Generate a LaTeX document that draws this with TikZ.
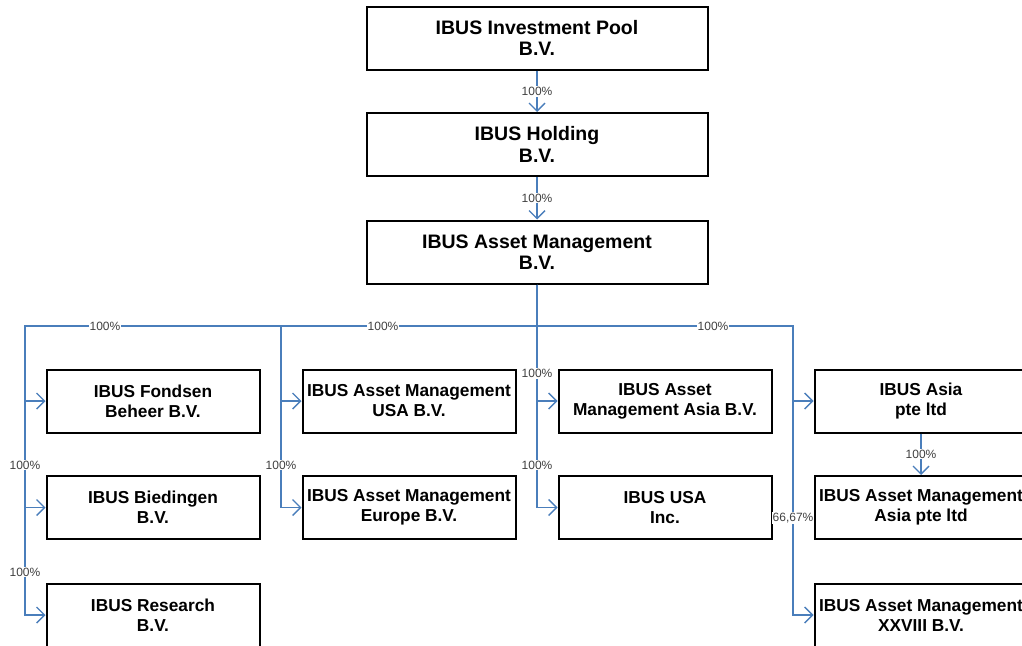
\documentclass[tikz,border=0pt]{standalone}
\usepackage{fontspec}
\setmainfont{Liberation Sans}
\usetikzlibrary{arrows.meta}
\definecolor{connblue}{HTML}{4A7EBB}
\definecolor{lbltxt}{HTML}{404040}
\begin{document}
\begin{tikzpicture}[x=1pt,y=1pt,
  bigbox/.style={draw=black,line width=2pt,fill=white,minimum width=341pt,minimum height=63pt,inner sep=0pt,align=center,font=\fontsize{19.5}{21.5}\selectfont\bfseries},
  smallbox/.style={draw=black,line width=2pt,fill=white,minimum width=213pt,minimum height=63pt,inner sep=0pt,align=center,font=\fontsize{17.3}{20}\selectfont\bfseries},
  link/.style={draw=connblue,line width=1.4pt,-{Straight Barb[length=8pt,width=16pt]}},
  pct/.style={fill=white,inner sep=1pt,text=lbltxt,font=\fontsize{12}{12}\selectfont}]
\useasboundingbox (0,0) rectangle (1022,-645);
\clip (0,0) rectangle (1022,-645);

% boxes
\node[bigbox] (pool) at (537,-38) {IBUS Investment Pool\\B.V.};
\node[bigbox] (hold) at (537,-144.5) {IBUS Holding\\B.V.};
\node[bigbox] (am) at (537,-252) {IBUS Asset Management\\B.V.};

\node[smallbox] (fondsen) at (153,-401) {IBUS Fondsen\\Beheer B.V.};
\node[smallbox] (biedingen) at (153,-507.5) {IBUS Biedingen\\B.V.};
\node[smallbox] (research) at (153,-615) {IBUS Research\\B.V.};

\node[smallbox] (amusa) at (409,-401) {IBUS Asset Management\\USA B.V.};
\node[smallbox] (ameurope) at (409,-507.5) {IBUS Asset Management\\Europe B.V.};

\node[smallbox] (amasia) at (665,-401) {IBUS Asset\\Management Asia B.V.};
\node[smallbox] (usainc) at (665,-507.5) {IBUS USA\\Inc.};

\node[smallbox] (asia) at (921,-401) {IBUS Asia\\pte ltd};
\node[smallbox] (amasiapte) at (921,-507.5) {IBUS Asset Management\\Asia pte ltd};
\node[smallbox] (xxviii) at (921,-615) {IBUS Asset Management\\XXVIII B.V.};

% bus coordinates
\coordinate (bus) at (537,-326);
\coordinate (b1) at (25,-326);
\coordinate (b2) at (281,-326);
\coordinate (b4) at (793,-326);

% connectors
\draw[link] (pool.south) -- (hold.north);
\draw[link] (hold.south) -- (am.north);
\draw[link] (am.south) -- (bus) -- (b1) |- (fondsen.west);
\draw[link] (am.south) -- (bus) -- (b1) |- (biedingen.west);
\draw[link] (am.south) -- (bus) -- (b1) |- (research.west);
\draw[link] (am.south) -- (bus) -- (b2) |- (amusa.west);
\draw[link] (am.south) -- (bus) -- (b2) |- (ameurope.west);
\draw[link] (am.south) |- (amasia.west);
\draw[link] (am.south) |- (usainc.west);
\draw[link] (am.south) -- (bus) -- (b4) |- (asia.west);
\draw[link] (am.south) -- (bus) -- (b4) |- (xxviii.west);
\draw[link] (asia.south) -- (amasiapte.north);

% percentage labels
\node[pct] (l1) at (537,-91.5) {100\%};
\node[pct] (l2) at (537,-198) {100\%};
\node[pct] (l3) at (105,-326) {100\%};
\node[pct] (l4) at (383,-326) {100\%};
\node[pct] (l5) at (713,-326) {100\%};
\node[pct] (l6) at (537,-373.5) {100\%};
\node[pct] (l7) at (25,-465) {100\%};
\node[pct] (l8) at (281,-465) {100\%};
\node[pct] (l9) at (537,-465) {100\%};
\node[pct] (l10) at (25,-572) {100\%};
\node[pct] (l11) at (921,-454) {100\%};
\node[pct] (l12) at (793,-518) {66,67\%};
\end{tikzpicture}
\end{document}
